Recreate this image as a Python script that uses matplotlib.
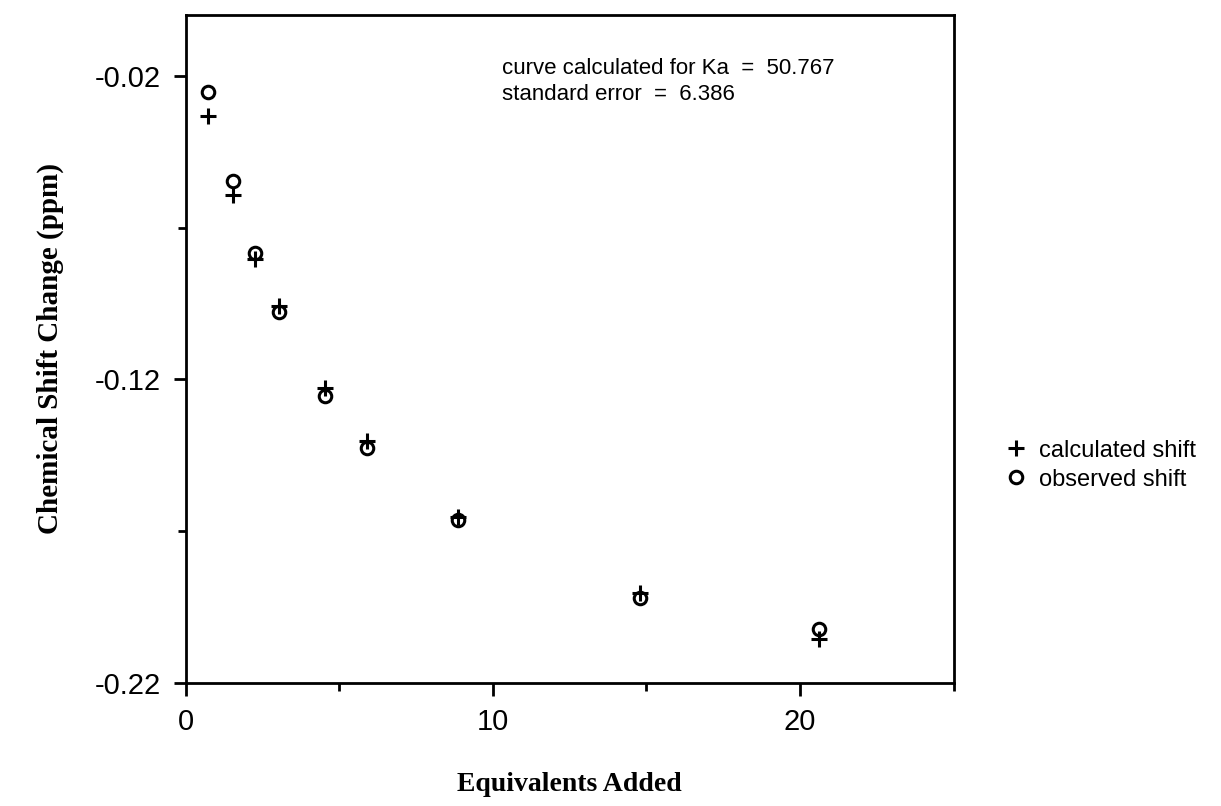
import numpy as np
import matplotlib.pyplot as plt
from matplotlib.ticker import MultipleLocator

plt.rcParams['font.family'] = ['Liberation Sans', 'DejaVu Sans']

# equivalents added and chemical shift change (ppm)
equiv = [0.74, 1.54, 2.25, 3.03, 4.53, 5.89, 8.88, 14.78, 20.61]
calc_shift = [-0.0333, -0.0593, -0.0803, -0.0959, -0.1227, -0.1404, -0.1655, -0.1903, -0.2056]
obs_shift = [-0.0252, -0.0546, -0.0785, -0.0978, -0.1255, -0.1425, -0.1664, -0.1920, -0.2023]

ka = 50.767
std_err = 6.386

fig = plt.figure(figsize=(12.21, 8.06), dpi=100)
ax = fig.add_axes([0.152, 0.153, 0.629, 0.828])

ax.plot(equiv, calc_shift, linestyle='none', marker='+', color='black',
        markersize=12, markeredgewidth=2.2, label='calculated shift')
ax.plot(equiv, obs_shift, linestyle='none', marker='o', markerfacecolor='none',
        markeredgecolor='black', markersize=9, markeredgewidth=2.2, label='observed shift')

ax.set_xlim(0, 25)
ax.set_ylim(-0.22, 0.0)
ax.xaxis.set_major_locator(MultipleLocator(10))
ax.xaxis.set_minor_locator(MultipleLocator(5))
ax.set_yticks([-0.02, -0.12, -0.22])
ax.set_yticks([-0.07, -0.17], minor=True)
ax.set_yticklabels(['-0.02', '-0.12', '-0.22'])

for s in ax.spines.values():
    s.set_linewidth(2)
ax.tick_params(which='major', direction='out', length=9, width=2, labelsize=21, pad=9)
ax.tick_params(which='minor', direction='out', length=6, width=2)

ax.text(10.3, -0.0218, f'curve calculated for Ka  =  {ka:.3f}\nstandard error  =  {std_err:.3f}',
        fontsize=16, va='center', ha='left', linespacing=1.3)

ax.set_xlabel('Equivalents Added', family='Liberation Serif', fontweight='bold',
              fontsize=20, labelpad=26)
ax.set_ylabel('Chemical Shift Change (ppm)', family='Liberation Serif', fontweight='bold',
              fontsize=21, labelpad=22)

ax.legend(loc='center left', bbox_to_anchor=(1.05, 0.326), frameon=False,
          fontsize=17, handletextpad=0.4, borderaxespad=0, labelspacing=0.3,
          handlelength=1.2)

fig.savefig('out.png', dpi=100)
